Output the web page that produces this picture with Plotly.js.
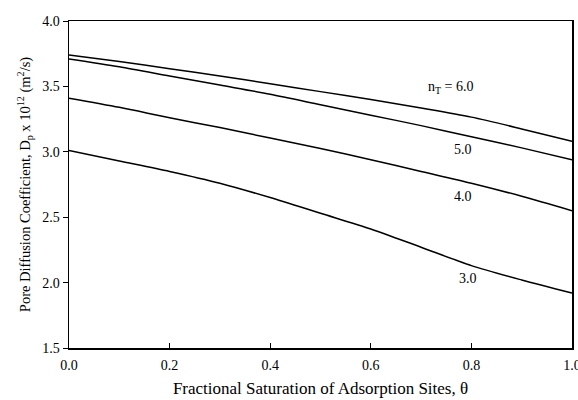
<!DOCTYPE html>
<html>
<head>
<meta charset="utf-8">
<script src="https://cdn.plot.ly/plotly-3.0.1.min.js"></script>
<style>html,body{margin:0;padding:0;background:#fff;}#chart{width:578px;height:400px;}</style>
</head>
<body>
<div id="chart"></div>
<script>
const theta = [0.0, 0.1, 0.2, 0.3, 0.4, 0.5, 0.6, 0.7, 0.8, 0.9, 1.0];
const dp_n6 = [3.74, 3.69, 3.635, 3.58, 3.52, 3.46, 3.40, 3.335, 3.265, 3.175, 3.08];
const dp_n5 = [3.71, 3.65, 3.58, 3.51, 3.44, 3.36, 3.28, 3.20, 3.115, 3.03, 2.94];
const dp_n4 = [3.41, 3.34, 3.26, 3.185, 3.105, 3.025, 2.94, 2.85, 2.76, 2.66, 2.55];
const dp_n3 = [3.01, 2.93, 2.85, 2.76, 2.65, 2.53, 2.41, 2.27, 2.13, 2.02, 1.92];
const seriesNames = ["n_T = 6.0", "5.0", "4.0", "3.0"];
const labelTexts = ["n<sub>T</sub> = 6.0", "5.0", "4.0", "3.0"];
const labelX = [0.758, 0.784, 0.784, 0.794];
const labelY = [3.49, 3.02, 2.655, 2.03];

const allSeries = [dp_n6, dp_n5, dp_n4, dp_n3];
const traces = allSeries.map((ys, i) => ({
  x: theta, y: ys, type: 'scatter', mode: 'lines', name: seriesNames[i],
  line: {color: '#000', width: 1.5, shape: 'spline', smoothing: 0.8},
  hoverinfo: 'skip'
}));

const serif = 'Liberation Serif, Times New Roman, serif';
const annotations = labelTexts.map((t, i) => ({
  x: labelX[i], y: labelY[i], xref: 'x', yref: 'y', text: t, showarrow: false,
  font: {family: serif, size: 14, color: '#000'}
}));

const layout = {
  width: 578, height: 400,
  margin: {l: 68.5, r: 6.3, t: 20.7, b: 52.3},
  paper_bgcolor: '#fff', plot_bgcolor: '#fff',
  showlegend: false,
  font: {family: serif, color: '#000', size: 14},
  xaxis: {
    range: [0, 1], tickvals: [0, 0.2, 0.4, 0.6, 0.8, 1.0],
    ticktext: ['0.0', '0.2', '0.4', '0.6', '0.8', '1.0'],
    ticks: 'inside', ticklen: 5, tickcolor: '#000', tickwidth: 1,
    ticklabeloverflow: 'allow', ticklabelstandoff: 4,
    showline: true, linecolor: '#000', linewidth: 1.5, mirror: true,
    showgrid: false, zeroline: false,
    tickfont: {family: serif, size: 14},
    title: {text: 'Fractional Saturation of Adsorption Sites, θ', font: {family: serif, size: 17}, standoff: 10}
  },
  yaxis: {
    range: [1.5, 4.0], tickvals: [1.5, 2.0, 2.5, 3.0, 3.5, 4.0],
    ticktext: ['1.5', '2.0', '2.5', '3.0', '3.5', '4.0'],
    ticks: 'outside', ticklen: 5, tickcolor: '#000', tickwidth: 1,
    ticklabeloverflow: 'allow',
    showline: true, linecolor: '#000', linewidth: 1.5, mirror: true,
    showgrid: false, zeroline: false,
    tickfont: {family: serif, size: 14},
    title: {text: 'Pore Diffusion Coefficient, D<sub>p</sub> x 10<sup>12</sup> (m<sup>2</sup>/s)', font: {family: serif, size: 14.5}, standoff: 8}
  },
  annotations: annotations
};

Plotly.newPlot('chart', traces, layout, {staticPlot: true, displayModeBar: false});
</script>
</body>
</html>
